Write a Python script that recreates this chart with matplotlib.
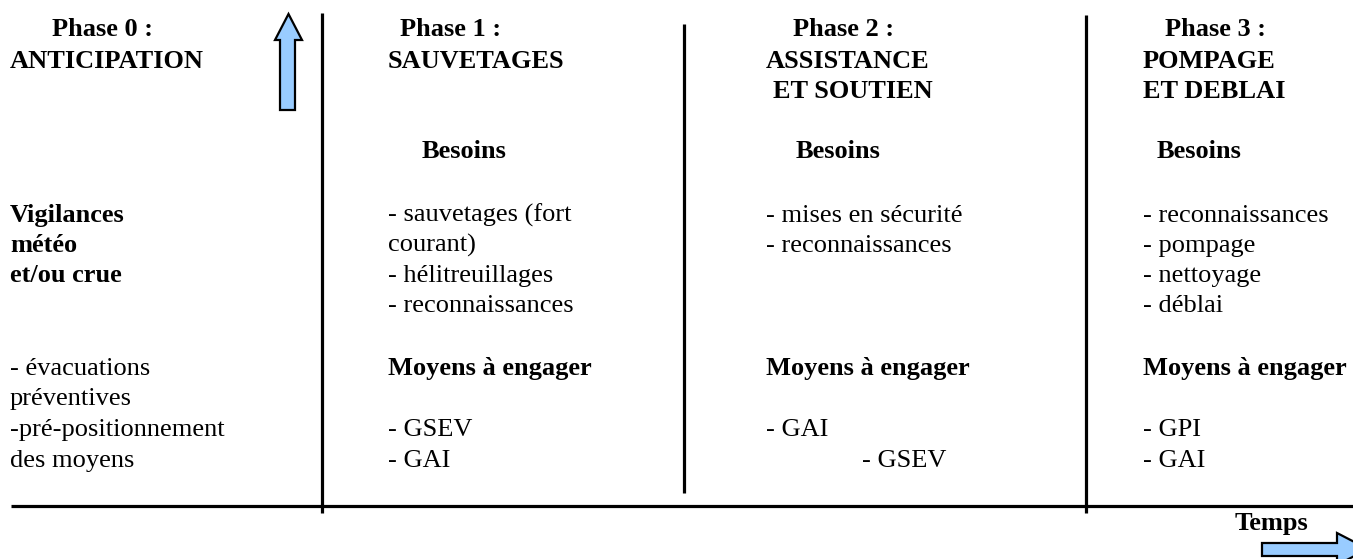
import matplotlib
matplotlib.use("Agg")
import matplotlib.pyplot as plt
from matplotlib.patches import Polygon

W, H = 1353, 559
FS = 19
FONT = "Liberation Serif"

# (x, baseline y, text, bold)
texts = [
    # Phase 0
    (52, 36, "Phase 0 :", True),
    (10, 68, "ANTICIPATION", True),
    (10, 222, "Vigilances", True),
    (10, 252, "météo", True),
    (10, 282, "et/ou crue", True),
    (10, 375, "- évacuations", False),
    (10, 405, "préventives", False),
    (10, 436, "-pré-positionnement", False),
    (10, 467, "des moyens", False),
    # Phase 1
    (400, 36, "Phase 1 :", True),
    (388, 68, "SAUVETAGES", True),
    (422, 158, "Besoins", True),
    (388, 222, "- sauvetages (fort", False),
    (388, 252, "courant)", False),
    (388, 282, "- hélitreuillages", False),
    (388, 312, "- reconnaissances", False),
    (388, 375, "Moyens à engager", True),
    (388, 436, "- GSEV", False),
    (388, 467, "- GAI", False),
    # Phase 2
    (793, 36, "Phase 2 :", True),
    (766, 68, "ASSISTANCE", True),
    (773, 98, "ET SOUTIEN", True),
    (796, 158, "Besoins", True),
    (766, 222, "- mises en sécurité", False),
    (766, 252, "- reconnaissances", False),
    (766, 375, "Moyens à engager", True),
    (766, 436, "- GAI", False),
    (862, 467, "- GSEV", False),
    # Phase 3
    (1165, 36, "Phase 3 :", True),
    (1143, 68, "POMPAGE", True),
    (1143, 98, "ET DEBLAI", True),
    (1157, 158, "Besoins", True),
    (1143, 222, "- reconnaissances", False),
    (1143, 252, "- pompage", False),
    (1143, 282, "- nettoyage", False),
    (1143, 312, "- déblai", False),
    (1143, 375, "Moyens à engager", True),
    (1143, 436, "- GPI", False),
    (1143, 467, "- GAI", False),
    # time label
    (1235, 530, "Temps", True),
]

# vertical separators: (x, y_top, y_bottom)
separators = [(322, 13, 513), (684, 24, 493), (1086, 15, 513)]
timeline = (11, 1353, 506)

up_arrow = [(288.5, 14), (302, 40), (295, 40), (295, 110), (280, 110),
            (280, 40), (275, 40)]
right_arrow = [(1262, 543), (1337, 543), (1337, 533), (1368, 549),
               (1337, 565), (1337, 556), (1262, 556)]

fig = plt.figure(figsize=(W / 100, H / 100), dpi=100)
ax = fig.add_axes([0, 0, 1, 1])
ax.set_xlim(0, W)
ax.set_ylim(H, 0)
ax.axis("off")

for x, y0, y1 in separators:
    ax.plot([x, x], [y0, y1], color="black", lw=2.3, solid_capstyle="butt")
ax.plot([timeline[0], timeline[1]], [timeline[2], timeline[2]],
        color="black", lw=2.3, solid_capstyle="butt")

for pts in (up_arrow, right_arrow):
    ax.add_patch(Polygon(pts, closed=True, facecolor="#99CCFF",
                         edgecolor="black", lw=1.6, joinstyle="miter"))

for x, y, s, b in texts:
    ax.text(x, y, s, fontsize=FS, family=FONT,
            fontweight="bold" if b else "normal",
            ha="left", va="baseline", color="black")

fig.savefig("out.png", dpi=100)
